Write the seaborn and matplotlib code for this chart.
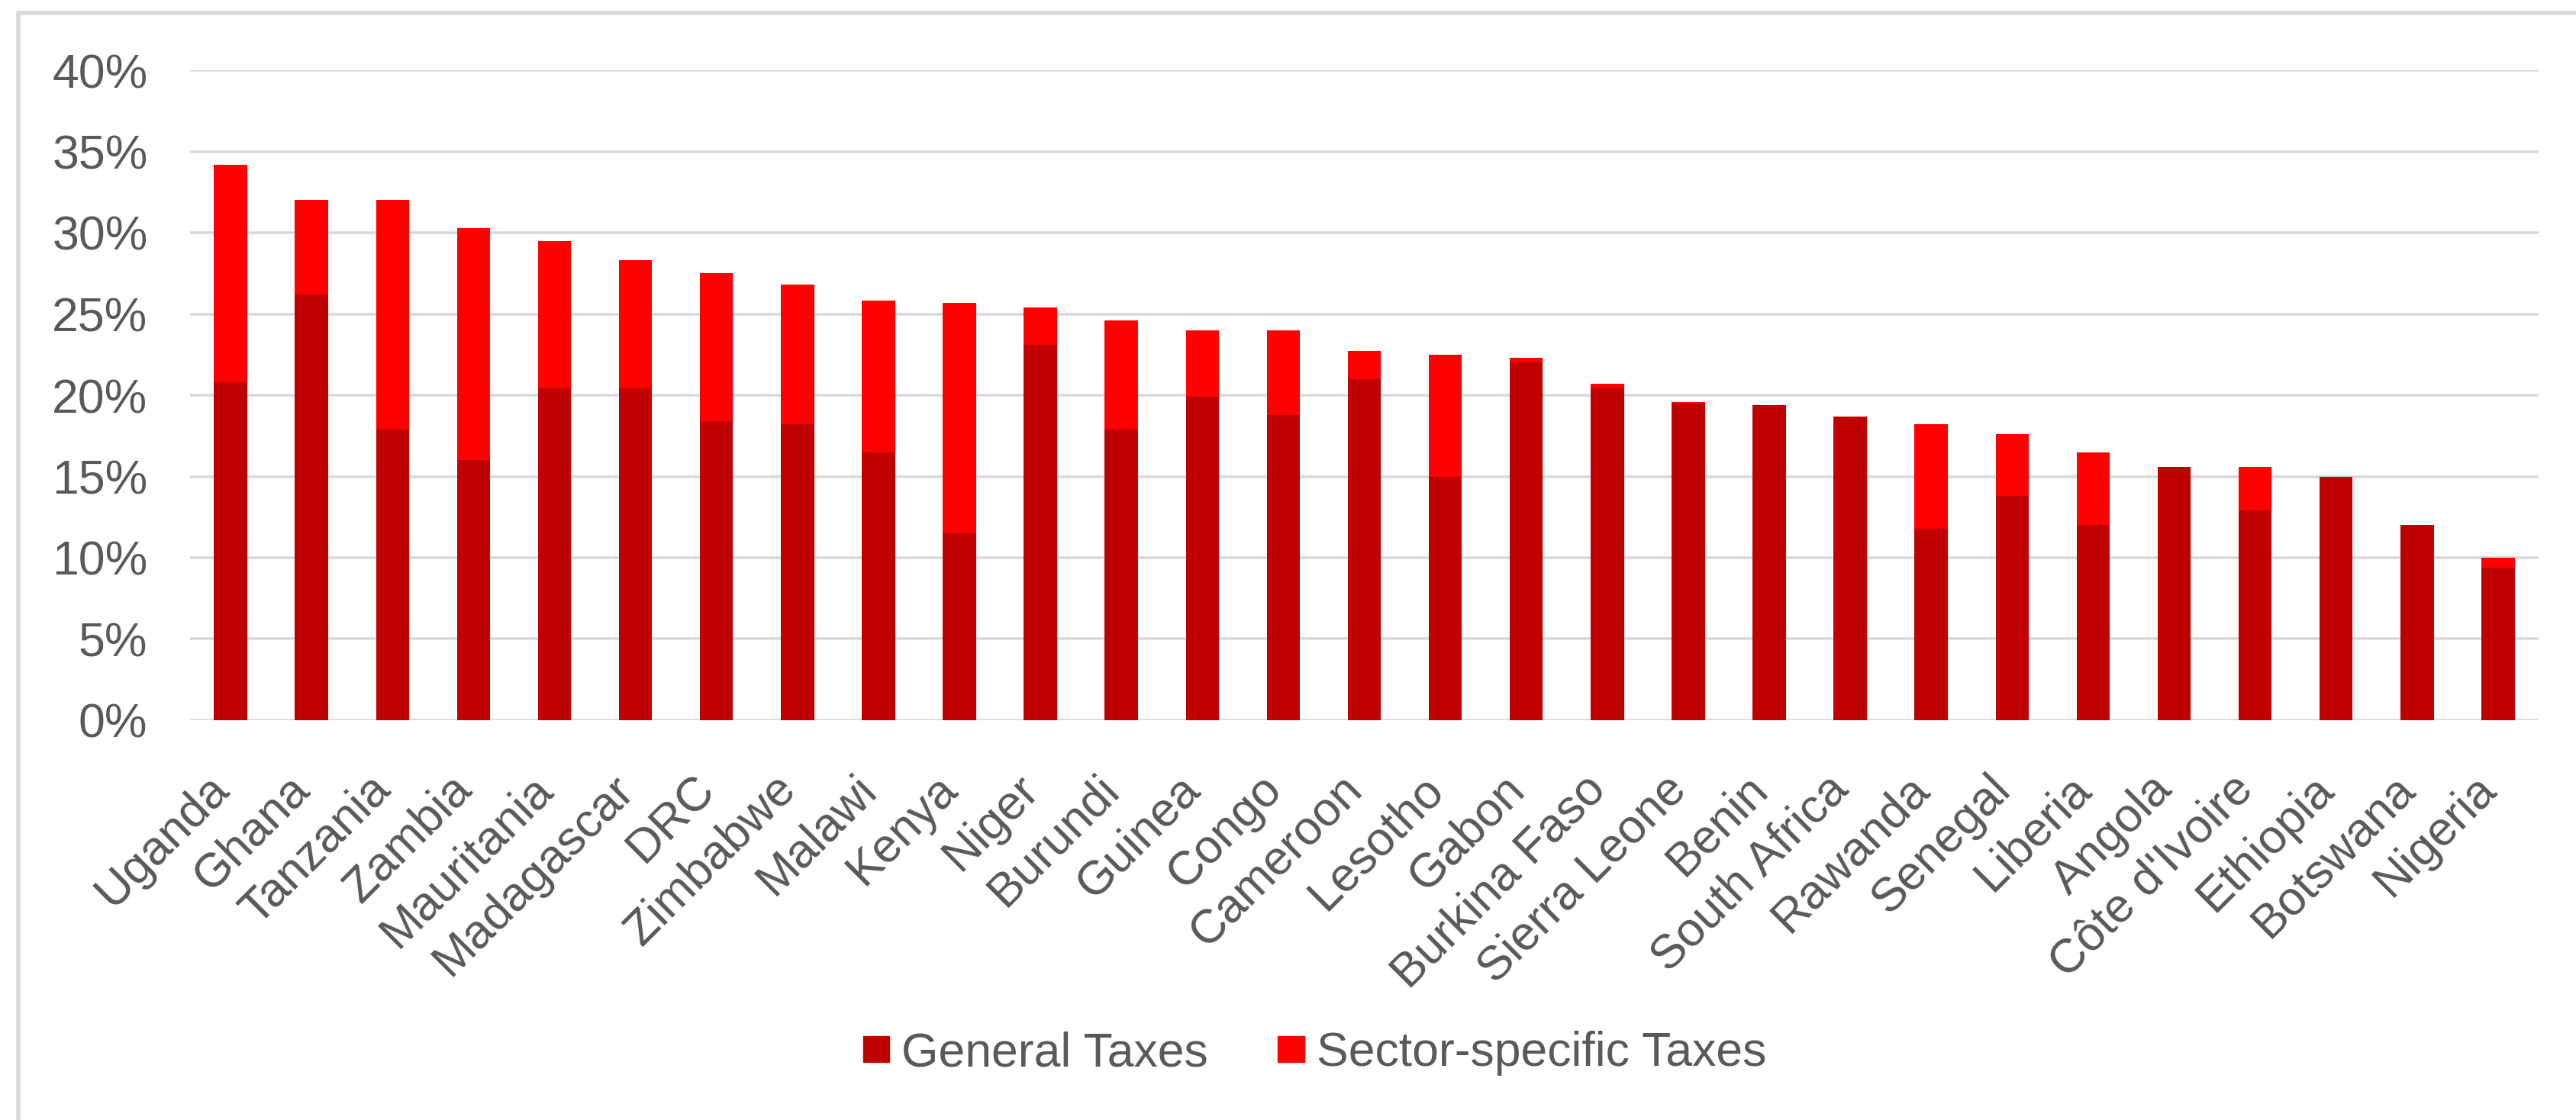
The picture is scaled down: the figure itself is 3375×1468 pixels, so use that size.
import matplotlib
matplotlib.use("Agg")
import matplotlib.pyplot as plt
import matplotlib.patches as mpatches
from matplotlib.lines import Line2D
from matplotlib.ticker import FuncFormatter
import seaborn as sns
import pandas as pd

# values, in percent
countries = ["Uganda", "Ghana", "Tanzania", "Zambia", "Mauritania", "Madagascar", "DRC",
             "Zimbabwe", "Malawi", "Kenya", "Niger", "Burundi", "Guinea", "Congo",
             "Cameroon", "Lesotho", "Gabon", "Burkina Faso", "Sierra Leone", "Benin",
             "South Africa", "Rawanda", "Senegal", "Liberia", "Angola", "Côte d'Ivoire",
             "Ethiopia", "Botswana", "Nigeria"]
general_taxes = [20.8, 26.2, 17.9, 16.0, 20.4, 20.4, 18.4, 18.2, 16.5, 11.5, 23.1, 17.9,
                 19.9, 18.8, 21.0, 15.0, 22.0, 20.4, 19.5, 19.4, 18.7, 11.8, 13.8, 12.0,
                 15.6, 12.9, 15.0, 12.0, 9.4]
sector_taxes = [13.4, 5.8, 14.1, 14.3, 9.1, 7.9, 9.1, 8.6, 9.3, 14.2, 2.3, 6.7, 4.1, 5.2,
                1.7, 7.5, 0.3, 0.3, 0.1, 0.0, 0.0, 6.4, 3.8, 4.5, 0.0, 2.7, 0.0, 0.0, 0.6]
y_ticks = [0, 5, 10, 15, 20, 25, 30, 35, 40]

GENERAL_COLOR = "#C00000"
SECTOR_COLOR = "#FF0000"
GRID_COLOR = "#D9D9D9"
TEXT_COLOR = "#595959"
FONT_SIZE = 45

df = pd.DataFrame({"country": countries, "general": general_taxes, "sector": sector_taxes})
df["total"] = df["general"] + df["sector"]

sns.set_theme(style="white")
plt.rcParams["font.family"] = ["Liberation Sans", "DejaVu Sans"]

W, H = 3375, 1468
fig = plt.figure(figsize=(W / 100, H / 100), dpi=100)
ax = fig.add_axes([249 / W, 1 - 944 / H, (3326 - 249) / W, (944 - 92) / H])

# stacked bars: full height in bright red, general part drawn over it
bar_kw = dict(width=0.41, saturation=1, linewidth=0, edgecolor="none", ax=ax)
sns.barplot(data=df, x="country", y="total", color=SECTOR_COLOR, zorder=3, **bar_kw)
sns.barplot(data=df, x="country", y="general", color=GENERAL_COLOR, zorder=4, **bar_kw)

ax.set_ylim(0, 40)
ax.set_xlim(-0.5, len(countries) - 0.5)
ax.set_yticks(y_ticks)
ax.yaxis.set_major_formatter(FuncFormatter(lambda v, _: f"{v:.0f}%"))
ax.yaxis.grid(True, color=GRID_COLOR, linewidth=2.6)
ax.set_axisbelow(True)
for s in ax.spines.values():
    s.set_visible(False)
ax.set_xlabel("")
ax.set_ylabel("")
ax.tick_params(axis="y", length=0, pad=40, labelsize=FONT_SIZE, labelcolor=TEXT_COLOR)
ax.tick_params(axis="x", length=0, pad=67, labelsize=FONT_SIZE, labelcolor=TEXT_COLOR)
plt.setp(ax.get_xticklabels(), rotation=45, ha="right", va="baseline", rotation_mode="anchor")

handles = [mpatches.Patch(color=GENERAL_COLOR, label="General Taxes"),
           mpatches.Patch(color=SECTOR_COLOR, label="Sector-specific Taxes")]
fig.legend(handles=handles, loc="center", bbox_to_anchor=(0.5104, 1 - 1381 / H), ncol=2,
           frameon=False, fontsize=FONT_SIZE, labelcolor=TEXT_COLOR, handlelength=0.55,
           handleheight=0.45, handletextpad=0.26, columnspacing=1.46,
           borderpad=0, borderaxespad=0)

# chart-area border (top and left edges visible in the reference)
fig.add_artist(Line2D([24 / W, 1], [1 - 17 / H, 1 - 17 / H], color=GRID_COLOR, linewidth=4))
fig.add_artist(Line2D([24 / W, 24 / W], [0, 1 - 17 / H], color=GRID_COLOR, linewidth=4))

fig.savefig("out.png", dpi=100, facecolor="white")
